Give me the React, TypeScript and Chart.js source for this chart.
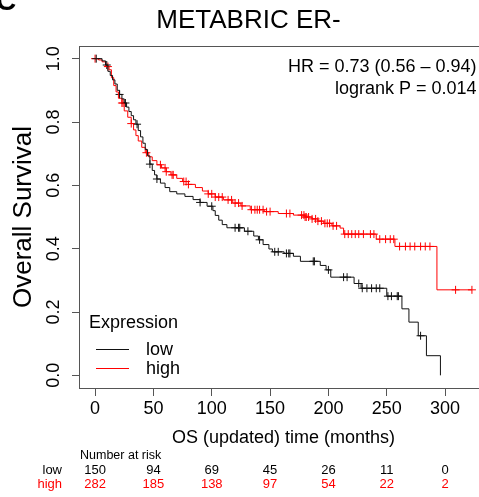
import React, { useEffect, useRef } from 'react';
import { Chart, registerables } from 'chart.js';

Chart.register(...registerables);

const FONT = '"Liberation Sans", Arial, Helvetica, sans-serif';

// Kaplan-Meier step data (months, survival)
const lowTimes = [0, 6, 9, 11, 13, 15, 17, 19, 21, 23, 25, 27, 29, 31, 33, 35, 37, 39, 41, 43, 45, 47, 49, 51, 53, 56, 60, 64, 70, 77, 84, 90, 96, 101, 103, 106, 109, 113, 128, 136, 140, 144, 149, 152, 162, 170, 176, 193, 198, 202, 222, 228, 250, 263, 269, 277, 284, 296];
const lowSurv = [1.0, 0.993, 0.98, 0.96, 0.947, 0.933, 0.92, 0.9, 0.887, 0.873, 0.86, 0.847, 0.833, 0.82, 0.807, 0.793, 0.773, 0.753, 0.733, 0.713, 0.693, 0.667, 0.647, 0.633, 0.62, 0.607, 0.593, 0.58, 0.573, 0.565, 0.555, 0.546, 0.534, 0.52, 0.505, 0.49, 0.476, 0.466, 0.455, 0.44, 0.428, 0.413, 0.399, 0.39, 0.385, 0.376, 0.36, 0.347, 0.333, 0.31, 0.29, 0.275, 0.25, 0.21, 0.168, 0.125, 0.062, 0.0];
const lowCensor = [1, 10, 21, 26, 36, 47, 53, 90, 100, 120, 123, 124, 131, 141, 154, 157, 164, 166, 167, 187, 188, 200, 213, 216, 226, 229, 233, 237, 241, 244, 251, 254, 259, 260, 279];

const highTimes = [0, 3, 6, 9, 12, 14, 16, 18, 20, 23, 25, 28, 31, 33, 35, 37, 40, 43, 46, 49, 53, 57, 61, 65, 70, 75, 80, 86, 92, 97, 103, 110, 118, 125, 133, 145, 157, 170, 180, 186, 191, 196, 203, 210, 213, 241, 257, 293];
const highSurv = [1.0, 0.996, 0.99, 0.975, 0.965, 0.94, 0.915, 0.895, 0.875, 0.86, 0.835, 0.815, 0.795, 0.775, 0.757, 0.74, 0.72, 0.703, 0.69, 0.678, 0.665, 0.655, 0.643, 0.633, 0.622, 0.612, 0.603, 0.593, 0.582, 0.573, 0.563, 0.554, 0.544, 0.535, 0.523, 0.517, 0.511, 0.506, 0.5, 0.494, 0.487, 0.48, 0.472, 0.465, 0.446, 0.43, 0.407, 0.27];
const highCensor = [0, 11, 23, 24, 31, 44, 56, 60, 61, 66, 67, 76, 78, 80, 97, 100, 103, 106, 109, 114, 117, 120, 123, 126, 134, 137, 139, 141, 144, 147, 150, 164, 167, 177, 179, 180, 181, 183, 186, 189, 191, 194, 197, 199, 201, 204, 207, 214, 217, 220, 223, 226, 230, 236, 239, 244, 249, 253, 256, 261, 266, 270, 274, 279, 283, 287, 309, 323];

const xTicks = [0, 50, 100, 150, 200, 250, 300];
const yTicks = [0, 0.2, 0.4, 0.6, 0.8, 1.0];
const riskLow = [150, 94, 69, 45, 26, 11, 0];
const riskHigh = [282, 185, 138, 97, 54, 22, 2];
const groupNames = ['low', 'high'];
const groupColors = ['#111111', '#ff0000'];

const titleText = 'METABRIC ER-';
const hrText = 'HR = 0.73 (0.56 \u2013 0.94)';
const pText = 'logrank P = 0.014';

function survAt(times: number[], surv: number[], t: number) {
  let s = surv[0];
  for (let i = 0; i < times.length; i++) if (times[i] <= t) s = surv[i];
  return s;
}

function curve(times: number[], surv: number[], censor: number[]) {
  const pts = times.map((t, i) => ({ x: t, y: surv[i] }));
  const end = Math.max(...censor);
  if (end > times[times.length - 1]) pts.push({ x: end, y: surv[surv.length - 1] });
  return pts;
}

function marks(times: number[], surv: number[], censor: number[]) {
  return censor.map((t) => ({ x: t, y: survAt(times, surv, t) }));
}

export default function App() {
  const ref = useRef<HTMLCanvasElement>(null);
  useEffect(() => {
    const canvas = ref.current!;
    const textPlugin = {
      id: 'texts',
      afterDraw(chart: any) {
        const { ctx, chartArea: a, scales } = chart;
        const xs = scales.x;
        ctx.save();
        // box
        ctx.strokeStyle = '#555';
        ctx.lineWidth = 1;
        ctx.strokeRect(Math.round(a.left) - 0.5, Math.round(a.top) + 0.5, a.right - a.left, a.bottom - a.top);
        ctx.fillStyle = '#000';
        // panel letter
        ctx.font = `bold 28px ${FONT}`;
        ctx.textAlign = 'left';
        ctx.textBaseline = 'alphabetic';
        ctx.fillText('C', -4, 9.5);
        // title
        ctx.font = `26px ${FONT}`;
        ctx.textAlign = 'center';
        ctx.fillText(titleText, 248.5, 27.5);
        // HR text
        ctx.font = `18px ${FONT}`;
        ctx.textAlign = 'right';
        ctx.fillText(hrText, 476.5, 72);
        ctx.fillText(pText, 476.5, 93.5);
        // legend
        ctx.textAlign = 'left';
        ctx.textBaseline = 'middle';
        ctx.fillText('Expression', 89, 323);
        const ly = [349, 368];
        groupNames.forEach((g, i) => {
          ctx.strokeStyle = groupColors[i];
          ctx.beginPath();
          ctx.moveTo(96, ly[i] + 0.5);
          ctx.lineTo(129, ly[i] + 0.5);
          ctx.stroke();
          ctx.fillStyle = '#000';
          ctx.fillText(g, 146, ly[i] + 1);
        });
        // number at risk
        ctx.font = `12.5px ${FONT}`;
        ctx.fillStyle = '#000';
        ctx.fillText('Number at risk', 80, 456);
        ctx.font = `13px ${FONT}`;
        const rows = [riskLow, riskHigh];
        const ry = [470.5, 484.5];
        rows.forEach((row, r) => {
          ctx.fillStyle = groupColors[r] === '#111111' ? '#000' : groupColors[r];
          ctx.textAlign = 'right';
          ctx.fillText(groupNames[r], 62, ry[r]);
          ctx.textAlign = 'center';
          row.forEach((v, i) => ctx.fillText(String(v), xs.getPixelForValue(xTicks[i]), ry[r]));
        });
        ctx.restore();
      },
    };

    const chart = new Chart(canvas, {
      type: 'line',
      data: {
        datasets: [
          {
            data: curve(lowTimes, lowSurv, lowCensor),
            borderColor: groupColors[0],
            borderWidth: 1,
            stepped: true,
            pointRadius: 0,
            fill: false,
          },
          {
            data: curve(highTimes, highSurv, highCensor),
            borderColor: groupColors[1],
            borderWidth: 1,
            stepped: true,
            pointRadius: 0,
            fill: false,
          },
          {
            type: 'scatter',
            data: marks(lowTimes, lowSurv, lowCensor),
            pointStyle: 'cross',
            pointRadius: 4,
            pointBorderWidth: 1,
            borderColor: groupColors[0],
            backgroundColor: groupColors[0],
            showLine: false,
          } as any,
          {
            type: 'scatter',
            data: marks(highTimes, highSurv, highCensor),
            pointStyle: 'cross',
            pointRadius: 4,
            pointBorderWidth: 1,
            borderColor: groupColors[1],
            backgroundColor: groupColors[1],
            showLine: false,
          } as any,
        ],
      },
      options: {
        animation: false,
        responsive: false,
        maintainAspectRatio: false,
        layout: { padding: { left: 0, top: 46, right: 8, bottom: 0 } },
        plugins: { legend: { display: false }, tooltip: { enabled: false }, title: { display: false } },
        scales: {
          x: {
            type: 'linear',
            min: -12.92,
            max: 335.92,
            afterBuildTicks: (s: any) => { s.ticks = xTicks.map((v) => ({ value: v })); },
            afterFit: (s: any) => { s.height = 109; },
            grid: { display: true, drawOnChartArea: false, drawTicks: true, tickLength: 8, tickColor: '#555' },
            border: { display: false },
            ticks: { color: '#000', font: { family: FONT, size: 18 }, padding: 2, autoSkip: false, maxRotation: 0, callback: (v: any) => String(v) },
            title: { display: true, text: 'OS (updated) time (months)', color: '#000', font: { family: FONT, size: 18 }, padding: { top: 0, bottom: 48 } },
          },
          y: {
            type: 'linear',
            min: -0.04,
            max: 1.04,
            afterBuildTicks: (s: any) => { s.ticks = yTicks.map((v) => ({ value: v })); },
            afterFit: (s: any) => { s.width = 80; },
            grid: { display: true, drawOnChartArea: false, drawTicks: true, tickLength: 8, tickColor: '#555' },
            border: { display: false },
            ticks: { color: '#000', font: { family: FONT, size: 18 }, padding: 5, autoSkip: false, minRotation: 90, maxRotation: 90, crossAlign: 'center', callback: (v: any) => Number(v).toFixed(1) },
            title: { display: true, text: 'Overall Survival', color: '#000', font: { family: FONT, size: 26 }, padding: { top: 8, bottom: 0 } },
          },
        },
      },
      plugins: [textPlugin],
    } as any);
    return () => chart.destroy();
  }, []);

  return (
    <div style={{ position: 'absolute', left: 0, top: 0, width: 479, height: 497, overflow: 'hidden', background: '#fff' }}>
      <canvas ref={ref} width={495} height={497} style={{ width: 495, height: 497, display: 'block' }} />
    </div>
  );
}
